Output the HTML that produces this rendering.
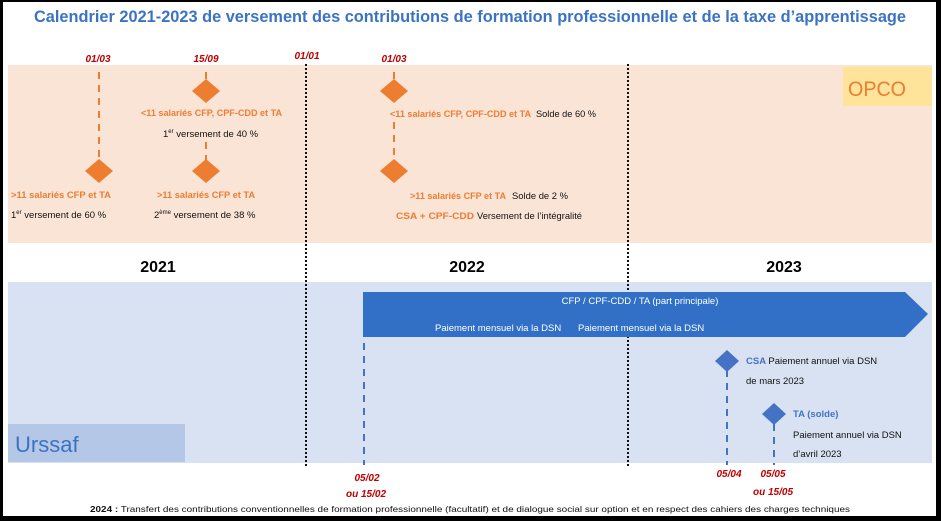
<!DOCTYPE html>
<html><head><meta charset="utf-8"><style>
html,body{margin:0;padding:0;background:#000}
svg{display:block}
text{font-family:"Liberation Sans",sans-serif}
.c{font-family:"Liberation Sans",sans-serif;font-size:9.5px}
</style></head><body>
<svg width="941" height="521" viewBox="0 0 941 521" xmlns="http://www.w3.org/2000/svg">
<rect x="3" y="2" width="933" height="514" fill="#fff"/>
<text x="470" y="22" text-anchor="middle" font-size="16.5" font-weight="bold" fill="#3b73c4" textLength="872" lengthAdjust="spacingAndGlyphs">Calendrier 2021-2023 de versement des contributions de formation professionnelle et de la taxe d’apprentissage</text>
<rect x="8" y="65" width="924" height="178" fill="#fae4d6"/>
<rect x="843" y="67" width="89" height="39" fill="#fde49a"/>
<text x="848" y="96" font-size="21" fill="#ed7d31" textLength="58" lengthAdjust="spacingAndGlyphs">OPCO</text>
<rect x="8" y="282" width="924" height="181" fill="#d9e2f3"/>
<rect x="8" y="424" width="177" height="38" fill="#b4c7e7"/>
<text x="15" y="452" font-size="22" fill="#3b73c4">Urssaf</text>
<text x="158" y="272" text-anchor="middle" font-size="16" font-weight="bold">2021</text>
<text x="467" y="272" text-anchor="middle" font-size="16" font-weight="bold">2022</text>
<text x="784" y="272" text-anchor="middle" font-size="16" font-weight="bold">2023</text>
<line x1="306" y1="64" x2="306" y2="466" stroke="#111" stroke-width="2" stroke-dasharray="2,2"/>
<line x1="628" y1="64" x2="628" y2="466" stroke="#111" stroke-width="2" stroke-dasharray="2,2"/>
<g font-size="10" font-weight="bold" font-style="italic" fill="#c00000" text-anchor="middle">
<text x="98" y="62">01/03</text><text x="206" y="62">15/09</text><text x="307" y="59">01/01</text><text x="394" y="62">01/03</text>
<text x="367" y="481">05/02</text><text x="366" y="497">ou 15/02</text>
<text x="729" y="477">05/04</text><text x="773" y="477">05/05</text><text x="773" y="495">ou 15/05</text>
</g>
<g stroke="#ed7d31" stroke-width="2" stroke-dasharray="7,6">
<line x1="99" y1="72" x2="99" y2="162"/>
<line x1="206" y1="72" x2="206" y2="80"/>
<line x1="206" y1="142" x2="206" y2="160"/>
<line x1="394" y1="72" x2="394" y2="80"/>
<line x1="394" y1="122" x2="394" y2="160"/>
</g>
<g fill="#ed7d31">
<polygon points="99,159 113,171 99,183 85,171"/>
<polygon points="206,79 220,91 206,103 192,91"/>
<polygon points="206,159 220,171 206,183 192,171"/>
<polygon points="394,79 408,91 394,103 380,91"/>
<polygon points="394,159 408,171 394,183 380,171"/>
</g>
<g class="c" font-weight="bold" fill="#ed7d31">
<text x="11" y="198" textLength="100" lengthAdjust="spacingAndGlyphs">&gt;11 salariés CFP et TA</text>
<text x="141" y="116" textLength="141" lengthAdjust="spacingAndGlyphs">&lt;11 salariés CFP, CPF-CDD et TA</text>
<text x="157" y="198" textLength="98" lengthAdjust="spacingAndGlyphs">&gt;11 salariés CFP et TA</text>
<text x="390" y="117" textLength="141" lengthAdjust="spacingAndGlyphs">&lt;11 salariés CFP, CPF-CDD et TA</text>
<text x="410" y="199" textLength="96" lengthAdjust="spacingAndGlyphs">&gt;11 salariés CFP et TA</text>
<text x="396" y="219" textLength="78" lengthAdjust="spacingAndGlyphs">CSA  + CPF-CDD</text>
</g>
<g class="c" fill="#111">
<text x="11" y="218">1<tspan font-size="6" dy="-4">er</tspan><tspan dy="4"> versement de 60 %</tspan></text>
<text x="163" y="137">1<tspan font-size="6" dy="-4">er</tspan><tspan dy="4"> versement de 40 %</tspan></text>
<text x="154" y="218">2<tspan font-size="6" dy="-4">ème</tspan><tspan dy="4"> versement de 38 %</tspan></text>
<text x="536" y="117" textLength="60" lengthAdjust="spacingAndGlyphs">Solde de 60 %</text>
<text x="512" y="199" textLength="56" lengthAdjust="spacingAndGlyphs">Solde de 2 %</text>
<text x="477" y="219" textLength="105" lengthAdjust="spacingAndGlyphs">Versement de l’intégralité</text>
</g>
<polygon points="363,292 905,292 928,314 905,337 363,337" fill="#3170c6"/>
<g class="c" fill="#fff">
<text x="640" y="304" text-anchor="middle">CFP / CPF-CDD / TA (part principale)</text>
<text x="435" y="331">Paiement mensuel via la DSN</text>
<text x="578" y="331">Paiement mensuel via la DSN</text>
</g>
<g stroke="#4472c4" stroke-width="2" stroke-dasharray="7,6">
<line x1="364" y1="343" x2="364" y2="465"/>
<line x1="727" y1="370" x2="727" y2="465"/>
<line x1="774" y1="424" x2="774" y2="465"/>
</g>
<polygon points="727,350 739,361 727,372 715,361" fill="#4472c4"/>
<polygon points="774,403 786,414 774,425 762,414" fill="#4472c4"/>
<g class="c">
<text x="746" y="364" fill="#4472c4" font-weight="bold">CSA <tspan fill="#111" font-weight="normal">Paiement annuel via DSN</tspan></text>
<text x="746" y="384" fill="#111">de mars 2023</text>
<text x="793" y="417" fill="#4472c4" font-weight="bold">TA (solde)</text>
<text x="793" y="438" fill="#111">Paiement annuel via DSN</text>
<text x="793" y="457" fill="#111">d’avril 2023</text>
</g>
<text x="90" y="512" font-size="8.6" fill="#111" textLength="760" lengthAdjust="spacingAndGlyphs"><tspan font-weight="bold">2024 :</tspan> Transfert des contributions conventionnelles de formation professionnelle (facultatif) et de dialogue social sur option et en respect des cahiers des charges techniques</text>
</svg>
</body></html>
